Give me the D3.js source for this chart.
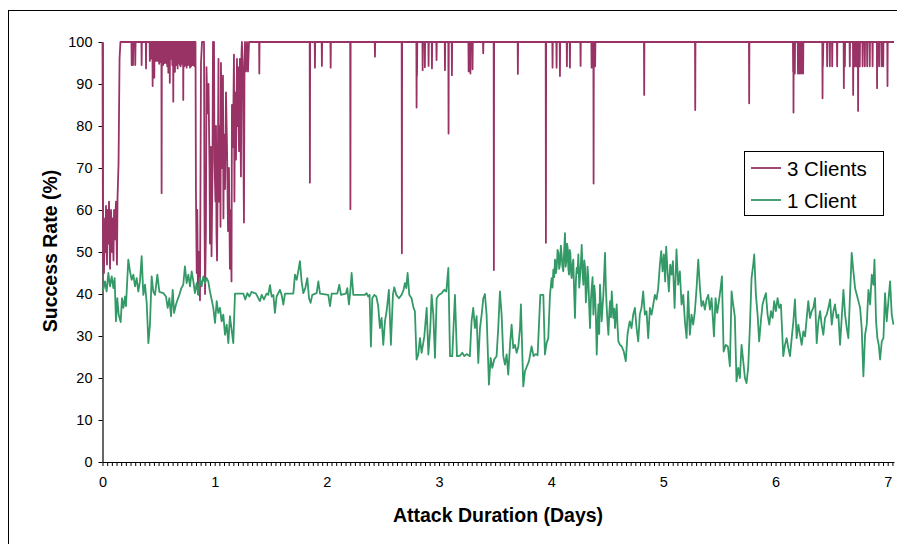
<!DOCTYPE html>
<html>
<head>
<meta charset="utf-8">
<script src="https://cdn.jsdelivr.net/npm/d3@7"></script>
<style>
  body { margin: 0; background: #fff; }
  svg { display: block; font-family: "Liberation Sans", Arial, sans-serif; }
</style>
</head>
<body>
<svg id="chart" width="897" height="544"></svg>
<script>
// tick labels
const dayTicks = [0, 1, 2, 3, 4, 5, 6, 7];
const rateTicks = [0, 10, 20, 30, 40, 50, 60, 70, 80, 90, 100];
const seriesNames = ["3 Clients", "1 Client"];

// [day, success rate %]
const threeClients = [
  [0,100],[0.003,64],[0.006,48],[0.013,45],[0.022,58],[0.027,50],[0.031,61],[0.040,47],[0.045,60],[0.053,52],
  [0.058,62],[0.067,46],[0.076,60],[0.085,50],[0.089,58],[0.098,48],[0.103,60],[0.111,53],[0.120,62],[0.129,47],
  [0.134,63],[0.143,71],[0.152,96],[0.160,100],
  [0.258,100],[0.260,94.5],[0.263,100],[0.270,100],[0.272,94.5],[0.275,100],[0.290,100],[0.292,94.5],[0.295,100],
  [0.347,100],[0.349,94.5],[0.351,100],[0.386,100],[0.388,93.7],[0.390,100],
  [0.420,100],[0.422,95.5],[0.425,100],[0.430,96],[0.433,100],[0.445,100],[0.447,89.5],[0.449,100],[0.460,100],
  [0.462,91.5],[0.464,100],[0.475,100],[0.477,95.5],[0.480,100],[0.490,100],[0.492,95.5],[0.495,100],
  [0.503,100],[0.505,94.8],[0.507,100],[0.513,100],[0.515,95.2],[0.517,100],[0.525,100],
  [0.527,64],[0.529,100],[0.538,100],[0.540,94.5],[0.542,100],[0.550,100],[0.552,95],[0.555,100],[0.565,100],
  [0.567,95],[0.570,100],[0.575,100],[0.577,94.2],[0.579,100],[0.585,100],
  [0.587,92.7],[0.589,100],[0.598,100],[0.600,90.3],[0.602,100],[0.612,100],[0.614,96],[0.616,100],
  [0.620,100],[0.622,94.5],[0.624,100],[0.629,100],
  [0.631,85.8],[0.633,100],[0.638,100],[0.640,95],[0.642,100],[0.644,100],[0.646,92.9],[0.648,100],[0.655,100],
  [0.657,94.5],[0.660,100],[0.668,100],
  [0.670,93.7],[0.672,100],[0.680,100],[0.682,95],[0.685,100],[0.688,100],[0.690,94.5],[0.692,100],[0.695,100],
  [0.697,94.2],[0.700,100],[0.708,100],[0.710,94.8],[0.712,100],[0.718,100],
  [0.720,86.2],[0.722,100],[0.728,100],[0.730,94.2],[0.732,100],[0.735,100],[0.737,94.5],[0.740,100],[0.748,100],
  [0.750,93.9],[0.752,100],[0.755,100],[0.757,94.5],[0.759,100],[0.762,100],
  [0.764,94.5],[0.767,100],[0.770,100],[0.772,94.8],[0.774,100],[0.778,100],[0.780,93.9],[0.783,100],
  [0.788,100],[0.790,94.2],[0.792,100],[0.795,100],[0.797,94.5],[0.800,100],[0.803,100],[0.805,94.5],[0.807,100],
  [0.812,100],[0.814,94.5],[0.817,100],[0.819,100],[0.821,94.2],[0.823,100],
  [0.829,100],[0.833,64],[0.840,45],[0.845,60],[0.851,40],[0.860,50],[0.869,38.5],[0.878,95],[0.887,100],
  [0.905,100],[0.909,60],[0.914,40],[0.922,55],[0.927,94],[0.936,83],[0.945,90],[0.954,70],[0.958,52],[0.967,75],
  [0.972,49],[0.980,68],[0.985,100],[0.989,88],[0.994,100],[0.998,72],[1.007,62],[1.012,80],[1.016,55],[1.021,48],
  [1.029,75],[1.034,96],[1.038,62],[1.047,80],[1.052,56],[1.056,95],[1.065,70],[1.074,92],[1.078,58],[1.083,78],
  [1.092,65],[1.101,88],[1.110,75],[1.119,55],[1.127,70],[1.136,46],[1.145,60],[1.150,43],[1.154,85],[1.163,75],
  [1.172,97],[1.176,62],[1.181,88],[1.190,72],[1.199,96],[1.203,80],[1.208,94],[1.217,74],[1.225,96],[1.234,68],
  [1.239,97],[1.243,100],[1.252,92],[1.261,57],[1.266,95],[1.270,100],[1.279,93],[1.288,100],[1.297,93],[1.306,100],
  [1.396,100],[1.398,92.5],[1.400,100],
  [1.847,100],[1.849,66.5],[1.851,100],[1.892,100],[1.894,93.9],[1.896,100],[1.954,100],[1.956,94.3],[1.958,100],
  [2.032,100],[2.034,93.9],[2.036,100],[2.208,100],[2.210,60.2],[2.212,100],[2.427,100],[2.429,96.5],[2.431,100],
  [2.667,100],[2.669,49.7],[2.671,100],[2.798,100],[2.800,84.4],[2.802,100],[2.804,92.1],[2.806,100],
  [2.852,100],[2.854,93.3],[2.856,100],[2.872,100],[2.874,94],[2.876,100],[2.905,100],[2.907,94.3],[2.909,100],
  [2.935,100],[2.937,93.7],[2.939,100],[2.976,100],[2.978,95.7],[2.980,100],[3.051,100],[3.053,93.3],[3.055,100],
  [3.083,100],[3.085,78.2],[3.087,100],[3.113,100],[3.115,92.1],[3.117,100],[3.262,100],[3.264,93],[3.266,100],
  [3.278,100],[3.280,92.5],[3.282,100],[3.297,100],[3.299,93.5],[3.301,100],[3.392,100],[3.394,97.3],[3.396,100],
  [3.487,100],[3.489,45.7],[3.491,100],[3.701,100],[3.703,92.4],[3.705,100],[3.951,100],[3.953,52.2],[3.955,100],
  [4.010,100],[4.012,93.9],[4.014,100],[4.046,100],[4.048,93.9],[4.050,100],[4.076,100],[4.078,91.9],[4.080,100],
  [4.138,100],[4.140,94.2],[4.142,100],[4.165,100],[4.167,93.9],[4.169,100],[4.260,100],[4.262,94.3],[4.264,100],
  [4.358,100],[4.360,93.9],[4.362,100],[4.376,100],[4.378,66.3],[4.380,100],[4.390,100],[4.392,94.2],[4.394,100],
  [4.827,100],[4.829,87.4],[4.831,100],[5.282,100],[5.284,83.8],[5.286,100],[5.763,100],[5.765,85.4],[5.767,100],
  [6.155,100],[6.157,92.9],[6.159,100],[6.160,83.2],[6.162,100],[6.170,100],[6.172,92.5],[6.174,100],
  [6.198,100],[6.200,92.5],[6.202,100],[6.213,100],[6.215,92.5],[6.217,100],[6.228,100],[6.230,92.5],[6.232,100],
  [6.244,100],[6.246,92.5],[6.248,100],[6.417,100],[6.419,86.6],[6.421,100],[6.422,94.2],[6.426,100],
  [6.458,100],[6.460,94.2],[6.462,100],[6.482,100],[6.484,94.2],[6.486,100],[6.503,100],[6.505,94.2],[6.507,100],
  [6.547,100],[6.549,94.2],[6.551,100],[6.607,100],[6.609,89.0],[6.611,100],[6.616,100],[6.618,94.2],[6.620,100],
  [6.660,100],[6.662,94.2],[6.664,100],[6.690,100],[6.692,87.4],[6.694,100],[6.705,100],[6.707,94.2],[6.709,100],
  [6.720,100],[6.722,94.2],[6.724,100],[6.734,100],[6.736,83.6],[6.738,100],[6.749,100],[6.751,94.2],[6.753,100],
  [6.774,100],[6.776,94.2],[6.778,100],[6.794,100],[6.796,94.2],[6.798,100],[6.815,100],[6.817,94.2],[6.819,100],
  [6.838,100],[6.840,94.2],[6.842,100],[6.863,100],[6.865,94.2],[6.867,100],[6.903,100],[6.905,89.0],[6.907,100],
  [6.921,100],[6.923,94.2],[6.925,100],[6.943,100],[6.945,94.2],[6.947,100],[6.958,100],[6.960,94.2],[6.962,100],
  [6.996,100],[6.998,89.5],[7.000,100],[7.056,100]
];

const oneClient = [
  [0,41.5],[0.007,41.0],[0.022,43.0],[0.037,40.6],[0.052,45.0],[0.067,41.8],[0.082,44.2],[0.097,41.4],[0.108,43.8],
  [0.120,33.5],[0.132,39.0],[0.144,35.1],[0.162,33.3],[0.174,39.0],[0.186,36.7],[0.201,39.4],[0.209,37.1],[0.230,48.2],
  [0.245,45.4],[0.260,43.4],[0.275,44.6],[0.290,41.8],[0.305,43.8],[0.319,40.6],[0.334,43.0],[0.349,49.0],[0.364,39.8],
  [0.379,42.2],[0.394,37.9],[0.409,28.3],[0.423,32.7],[0.438,44.2],[0.453,40.6],[0.468,39.8],[0.489,44.6],[0.507,40.5],
  [0.542,40.2],[0.566,39.4],[0.581,36.7],[0.596,39.0],[0.611,34.7],[0.626,41.0],[0.638,35.5],[0.655,37.5],[0.670,38.7],
  [0.685,39.8],[0.703,41.4],[0.720,42.2],[0.735,46.6],[0.750,42.6],[0.765,44.6],[0.780,41.8],[0.795,45.4],[0.810,43.0],
  [0.824,40.2],[0.839,42.6],[0.854,39.8],[0.869,43.8],[0.884,41.8],[0.899,44.2],[0.914,42.6],[0.928,43.8],[0.943,43.0],
  [0.958,40.6],[0.973,38.7],[0.988,36.7],[1.003,33.1],[1.018,38.3],[1.032,35.5],[1.047,36.7],[1.062,33.5],[1.077,35.1],
  [1.092,30.3],[1.107,32.7],[1.122,28.3],[1.136,34.7],[1.151,31.5],[1.166,28.3],[1.181,40.1],[1.255,40.1],[1.273,38.7],
  [1.291,40.2],[1.309,39.4],[1.329,40.5],[1.368,40.1],[1.389,39.0],[1.404,38.3],[1.419,39.8],[1.439,38.7],[1.463,40.1],
  [1.478,39.8],[1.493,42.1],[1.508,39.4],[1.523,39.8],[1.537,35.5],[1.552,39.4],[1.582,41.0],[1.597,39.8],[1.612,37.5],
  [1.627,40.1],[1.701,40.1],[1.716,44.6],[1.731,43.4],[1.745,45.4],[1.760,47.8],[1.775,43.0],[1.790,40.2],[1.808,41.4],
  [1.826,43.8],[1.841,39.0],[1.855,37.9],[1.870,39.8],[1.909,40.2],[1.924,43.0],[1.939,40.1],[2.013,39.8],[2.028,37.1],
  [2.043,40.1],[2.093,40.1],[2.111,42.2],[2.126,39.8],[2.170,40.1],[2.182,41.4],[2.197,37.5],[2.209,40.6],[2.221,45.0],
  [2.236,39.8],[2.340,39.8],
  [2.354,40.2],[2.369,39.4],[2.381,39.8],[2.393,27.5],[2.405,39.0],[2.423,39.8],[2.441,39.4],[2.458,37.1],[2.473,31.9],
  [2.488,34.3],[2.503,27.9],[2.518,33.5],[2.533,35.9],[2.553,41.0],[2.571,27.9],[2.589,39.8],[2.601,41.6],[2.619,39.8],
  [2.643,39.0],[2.666,39.8],[2.684,41.0],[2.696,42.6],[2.708,41.4],[2.720,45.0],[2.735,39.8],[2.755,39.0],[2.773,36.7],
  [2.785,35.9],[2.800,24.4],[2.815,25.6],[2.830,29.5],[2.845,26.0],[2.869,29.9],[2.890,36.7],[2.905,25.6],[2.922,31.9],
  [2.934,39.8],[2.949,35.1],[2.964,24.8],[2.979,39.0],[3.000,39.8],[3.024,40.2],[3.047,41.0],[3.065,40.6],[3.083,46.2],
  [3.098,25.2],[3.118,25.2],[3.142,39.8],[3.160,25.2],[3.187,25.3],[3.207,26.0],[3.225,25.2],[3.246,25.7],[3.275,25.2],
  [3.290,33.5],[3.305,36.7],[3.320,31.9],[3.335,34.7],[3.350,23.6],[3.365,31.9],[3.380,35.1],[3.395,39.0],[3.409,40.0],
  [3.424,35.1],[3.445,18.4],[3.460,24.8],[3.475,22.4],[3.492,24.4],[3.513,25.2],[3.528,31.9],[3.543,40.6],[3.558,35.1],
  [3.573,25.2],[3.588,23.2],[3.603,25.6],[3.617,20.8],[3.635,28.7],[3.647,32.7],[3.662,27.1],[3.677,27.9],[3.692,26.0],
  [3.707,27.5],[3.722,31.9],[3.730,37.5],[3.751,18.0],[3.766,21.6],[3.784,22.8],[3.802,24.0],[3.825,27.5],[3.843,25.2],
  [3.861,25.7],[3.879,25.4],[3.891,32.7],[3.903,39.8],[3.930,39.8],[3.944,25.6],[3.959,28.3],[3.974,29.5],[3.989,39.8],
  [4.004,43.8],[4.012,41.5],[4.019,45.8],[4.027,44.0],[4.034,48.2],[4.042,45.0],[4.049,46.2],[4.057,50.5],[4.064,49.8],
  [4.071,46.0],[4.078,47.0],[4.086,51.5],[4.093,49.4],[4.100,46.5],[4.108,45.4],[4.115,50.0],[4.123,54.5],
  [4.129,46.5],[4.135,47.8],[4.141,52.0],[4.147,51.0],[4.153,46.0],[4.159,44.6],[4.165,50.5],[4.171,49.8],[4.177,45.0],
  [4.183,43.8],[4.190,47.0],[4.197,48.2],[4.205,40.0],[4.212,34.3],[4.220,43.0],[4.227,46.2],[4.235,45.0],[4.242,49.4],
  [4.250,41.5],[4.257,44.2],[4.265,47.5],[4.272,51.7],[4.280,45.0],[4.287,42.2],[4.295,48.0],[4.302,46.2],[4.309,38.0],
  [4.316,40.6],[4.324,46.5],[4.331,43.8],[4.339,37.0],[4.346,31.9],[4.354,38.5],[4.361,41.4],[4.369,44.0],[4.376,35.1],
  [4.384,42.0],[4.391,39.8],[4.399,34.0],[4.406,25.6],[4.414,33.0],[4.421,37.5],[4.428,30.5],[4.435,42.2],[4.443,38.0],
  [4.450,33.5],[4.458,37.0],[4.465,39.8],[4.472,44.5],[4.480,49.8],[4.488,41.0],[4.495,36.7],[4.503,33.0],[4.510,30.3],
  [4.518,35.5],[4.525,38.3],[4.533,34.5],[4.540,40.6],[4.547,37.0],[4.554,34.3],[4.562,36.5],[4.569,31.9],[4.577,35.0],
  [4.584,37.5],[4.592,32.0],[4.599,28.7],[4.614,27.9],[4.629,27.5],[4.647,26.3],
  [4.665,24.0],[4.680,30.3],[4.694,32.7],
  [4.701,33.5],[4.716,31.9],[4.731,35.1],[4.746,36.7],[4.761,31.9],[4.776,28.7],[4.790,35.1],[4.805,36.7],[4.820,40.6],
  [4.835,35.1],[4.850,35.9],[4.865,29.5],[4.880,36.7],[4.895,35.1],[4.910,37.5],[4.924,39.8],[4.939,38.7],[4.954,41.4],
  [4.969,47.0],[4.981,50.2],[4.993,45.4],[5.005,49.4],[5.016,43.0],[5.025,51.3],[5.037,45.4],[5.049,40.6],[5.061,47.0],
  [5.073,44.6],[5.085,47.8],[5.100,36.7],[5.117,50.6],[5.132,42.2],[5.147,45.4],[5.162,37.5],[5.177,39.8],[5.192,33.5],
  [5.207,29.5],[5.221,40.6],[5.236,30.3],[5.251,35.1],[5.266,32.7],[5.281,35.9],[5.296,41.4],[5.311,48.2],[5.326,41.4],
  [5.340,37.1],[5.355,38.3],[5.370,36.3],[5.385,38.7],[5.400,39.8],[5.415,36.3],[5.430,39.0],[5.451,29.9],[5.465,39.0],
  [5.480,35.5],[5.495,38.3],[5.507,40.6],[5.522,44.2],[5.537,26.3],[5.557,27.9],[5.575,27.5],[5.593,22.8],[5.608,40.6],
  [5.622,37.5],[5.637,34.7],[5.652,19.2],[5.667,22.4],[5.682,20.0],[5.697,27.9],[5.712,24.0],[5.727,20.0],[5.741,18.8],
  [5.756,22.4],[5.771,31.9],[5.786,43.8],[5.801,47.0],[5.810,49.4],[5.825,39.8],[5.840,35.1],[5.854,28.7],[5.869,33.5],
  [5.884,37.5],[5.899,39.0],[5.914,40.2],[5.929,35.1],[5.944,32.7],[5.959,35.9],[5.974,34.3],[5.988,38.3],[6.003,35.9],
  [6.018,39.0],[6.033,36.7],[6.048,37.5],[6.069,25.2],[6.084,27.9],[6.099,29.5],[6.114,27.1],[6.129,25.2],[6.144,29.5],
  [6.159,33.5],[6.173,38.7],[6.188,29.5],[6.203,32.7],[6.218,30.3],[6.233,27.9],[6.248,31.1],[6.263,29.9],[6.278,34.3],
  [6.292,38.3],[6.307,34.3],[6.322,35.9],[6.337,36.7],[6.352,39.0],[6.367,28.3],[6.382,33.5],[6.397,35.9],[6.411,32.7],
  [6.426,30.3],[6.441,34.3],[6.456,35.1],[6.471,36.7],[6.486,38.7],[6.501,32.7],[6.516,35.9],[6.530,37.5],[6.545,34.3],
  [6.560,35.1],[6.575,27.9],[6.590,34.3],[6.605,41.0],[6.620,35.1],[6.635,31.9],[6.649,29.5],[6.664,39.8],[6.679,49.8],
  [6.694,45.4],[6.709,41.4],[6.724,39.8],[6.739,38.3],[6.754,36.7],[6.768,31.9],[6.783,20.4],[6.798,30.3],[6.813,32.7],
  [6.828,41.0],[6.843,37.5],[6.858,44.6],[6.873,42.2],[6.882,48.2],[6.896,33.5],[6.908,29.5],[6.920,27.9],[6.932,24.4],
  [6.947,28.7],[6.962,29.5],[6.976,40.2],[6.991,33.5],[7.006,38.3],[7.021,43.0],[7.036,35.1],[7.051,32.7]
];

const colors = {"3 Clients": "#993366", "1 Client": "#339966"};

const svg = d3.select("#chart");
const plot = {left: 102.5, right: 894, top: 42, bottom: 462};

const x = d3.scaleLinear().domain([0, 7.056]).range([plot.left, plot.right]);
const y = d3.scaleLinear().domain([0, 100]).range([plot.bottom, plot.top]);

// outer chart border
svg.append("rect")
  .attr("x", 8.5).attr("y", 10.5)
  .attr("width", 1000).attr("height", 1000)
  .attr("fill", "none").attr("stroke", "#000").attr("stroke-width", 1);

// hourly ticks, labels only on whole days
const hourTicks = d3.range(0, 170).map(i => i / 24);
const xAxis = d3.axisBottom(x)
  .tickValues(hourTicks)
  .tickFormat(d => dayTicks.includes(d) ? d : "")
  .tickSize(4).tickSizeOuter(0).tickPadding(11);
const yAxis = d3.axisLeft(y)
  .tickValues(rateTicks)
  .tickSize(4).tickSizeOuter(0).tickPadding(6);

const gx = svg.append("g")
  .attr("transform", `translate(0,${plot.bottom})`)
  .call(xAxis);
const gy = svg.append("g")
  .attr("transform", `translate(${plot.left},0)`)
  .call(yAxis);

[gx, gy].forEach(g => {
  g.selectAll("text").attr("font-size", 14.5).attr("fill", "#000")
    .attr("font-family", "'Liberation Sans', Arial, sans-serif");
  g.selectAll("line").attr("stroke", "#000");
  g.select(".domain").attr("stroke", "#000").attr("stroke-width", 1.2);
});

const line = d3.line()
  .x(d => x(d[0]))
  .y(d => y(d[1]));

svg.append("path")
  .datum(threeClients)
  .attr("d", line)
  .attr("fill", "none")
  .attr("stroke", colors["3 Clients"])
  .attr("stroke-width", 1.8)
  .attr("stroke-linejoin", "round");

svg.append("path")
  .datum(oneClient)
  .attr("d", line)
  .attr("fill", "none")
  .attr("stroke", colors["1 Client"])
  .attr("stroke-width", 1.8)
  .attr("stroke-linejoin", "round");

// axis titles
svg.append("text")
  .attr("x", 498).attr("y", 522)
  .attr("text-anchor", "middle")
  .attr("font-size", 19.5).attr("font-weight", "bold")
  .text("Attack Duration (Days)");

svg.append("text")
  .attr("transform", "translate(56.5,251) rotate(-90)")
  .attr("text-anchor", "middle")
  .attr("font-size", 19.5).attr("font-weight", "bold")
  .text("Success Rate (%)");

// legend
const legend = svg.append("g").attr("transform", "translate(744,151)");
legend.append("rect")
  .attr("x", 0.5).attr("y", 0.5)
  .attr("width", 139).attr("height", 64)
  .attr("fill", "#fff").attr("stroke", "#000");

seriesNames.forEach((name, i) => {
  const ly = 17 + i * 32;
  legend.append("line")
    .attr("x1", 7).attr("x2", 37)
    .attr("y1", ly).attr("y2", ly)
    .attr("stroke", colors[name]).attr("stroke-width", 1.8);
  legend.append("text")
    .attr("x", 43).attr("y", ly + 8)
    .attr("font-size", 20.5)
    .text(name);
});
</script>
</body>
</html>
